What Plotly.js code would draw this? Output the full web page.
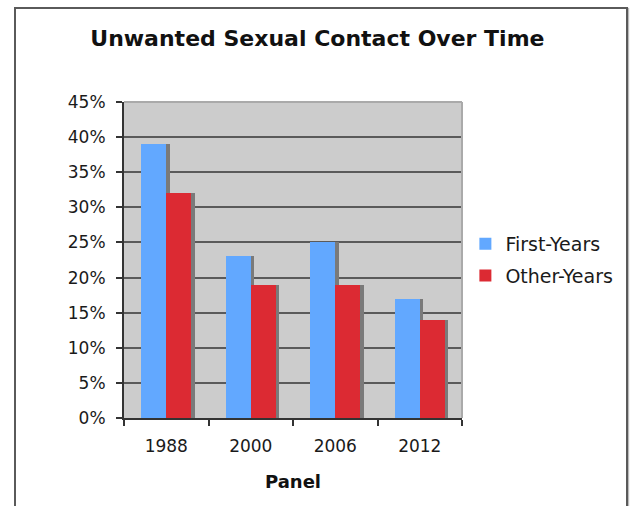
<!DOCTYPE html>
<html>
<head>
<meta charset="utf-8">
<script src="https://cdn.plot.ly/plotly-3.0.1.min.js"></script>
<style>
html,body{margin:0;padding:0;background:#fff;width:631px;height:506px;overflow:hidden;}
#frame{position:absolute;left:14px;top:7px;width:610px;height:520px;border:2px solid #5a5a5a;box-shadow:1px 1px 1px #bbb;}
#chart{position:absolute;left:0;top:0;width:631px;height:506px;}
</style>
</head>
<body>
<div id="frame"></div>
<div id="chart"></div>
<script>
const categories = ['1988', '2000', '2006', '2012'];
const firstYears = [39, 23, 25, 17];
const otherYears = [32, 19, 19, 14];
const seriesNames = ['First-Years', 'Other-Years'];

const W = 0.296;
const SH = 0.041;

const traces = [
  {type:'bar', x:categories, y:firstYears, offset:-W+SH, width:W, marker:{color:'#7a7a7a'}, showlegend:false, hoverinfo:'skip'},
  {type:'bar', x:categories, y:otherYears, offset:SH, width:W, marker:{color:'#7a7a7a'}, showlegend:false, hoverinfo:'skip'},
  {type:'bar', name:seriesNames[0], legendgroup:'a', x:categories, y:firstYears, offset:-W, width:W, marker:{color:'#62a8ff'}},
  {type:'bar', name:seriesNames[1], legendgroup:'b', x:categories, y:otherYears, offset:0, width:W, marker:{color:'#dc2a33'}}
];

const layout = {
  width:631, height:506,
  paper_bgcolor:'rgba(0,0,0,0)',
  plot_bgcolor:'#cccccc',
  barmode:'overlay',
  margin:{l:124, r:169, t:102, b:88, pad:0, autoexpand:false},
  title:{text:'<b>Unwanted Sexual Contact Over Time</b>', x:0.503, xanchor:'center', y:0.925, yanchor:'middle',
    font:{family:'DejaVu Sans', size:22, color:'#111'}},
  font:{family:'DejaVu Sans', size:17, color:'#1a1a1a'},
  xaxis:{
    type:'category', tickson:'boundaries', ticks:'outside', ticklen:6, tickwidth:2, tickcolor:'#333',
    showline:true, linecolor:'#333', linewidth:2, showgrid:false, ticklabelstandoff:12,
    tickfont:{family:'DejaVu Sans', size:17, color:'#1a1a1a'},
    title:{text:'<b>Panel</b>', font:{family:'DejaVu Sans', size:18, color:'#111'}, standoff:20}
  },
  yaxis:{
    range:[0,45], dtick:5, ticksuffix:'%', ticks:'outside', ticklen:6, tickwidth:2, tickcolor:'#333',
    showline:true, linecolor:'#333', linewidth:2, showgrid:true, gridcolor:'#5a5a5a', gridwidth:2,
    zeroline:false, ticklabelstandoff:7, tickfont:{family:'DejaVu Sans', size:17, color:'#1a1a1a'}
  },
  legend:{x:1.01, y:0.5, xanchor:'left', yanchor:'middle', font:{family:'DejaVu Sans', size:19, color:'#1a1a1a'},
    traceorder:'grouped', tracegroupgap:4, bgcolor:'rgba(0,0,0,0)'},
  shapes:[
    {type:'line', xref:'paper', yref:'paper', x0:0, x1:1, y0:1, y1:1, line:{color:'#aaaaaa', width:2}, layer:'above'},
    {type:'line', xref:'paper', yref:'paper', x0:1, x1:1, y0:0, y1:1, line:{color:'#aaaaaa', width:2}, layer:'above'}
  ],
  bargap:0
};

Plotly.newPlot('chart', traces, layout, {staticPlot:true});
</script>
</body>
</html>
